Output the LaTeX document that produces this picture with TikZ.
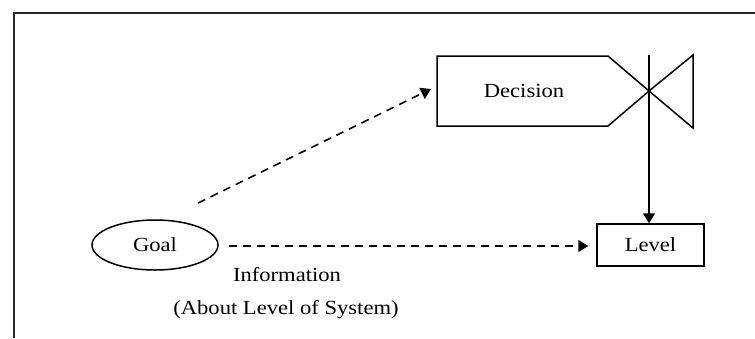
\documentclass[tikz,border=0pt]{standalone}
\usepackage{fontspec}
\setmainfont{Liberation Serif}[FakeStretch=1.13]
\usetikzlibrary{arrows.meta,shapes.geometric}
\begin{document}
\begin{tikzpicture}[x=1pt,y=-1pt,
  every node/.style={font=\fontsize{20}{24}\selectfont},
  outline/.style={draw=black,line width=1.5pt},
  flowtip/.style={-{Triangle[length=10pt,width=12pt]}},
  infoline/.style={flowtip,line width=1.6pt,dash pattern=on 8pt off 6pt},
  rateline/.style={flowtip,line width=1.5pt},
  label/.style={inner sep=0pt}]
  \useasboundingbox (0,0) rectangle (755,338);
  % frame
  \draw[line width=2.5pt,black!85] (14,338) -- (14,13) -- (755,13);

  % decision rate with valve
  \coordinate (dtl) at (437,56);
  \coordinate (dtr) at (608,56);
  \coordinate (valve) at (649,91);
  \coordinate (dbr) at (608,126);
  \coordinate (dbl) at (437,126);
  \coordinate (vtop) at (693,55);
  \coordinate (vbot) at (693,128);
  \coordinate (stem) at (649,55);
  \draw[outline,line join=miter] (dtl) -- (dtr) -- (valve) -- (dbr) -- (dbl) -- cycle;
  \draw[outline,line join=miter] (valve) -- (vtop) -- (vbot) -- cycle;
  \node[label] (decision) at (524,91) {Decision};

  % level
  \node[outline,minimum width=107pt,minimum height=42pt,inner sep=0pt] (level) at (650.5,245) {Level};

  % goal
  \node[outline,ellipse,minimum width=126pt,minimum height=50pt,inner sep=0pt] (goal) at (155,245) {Goal};

  % connectors
  \draw[rateline] (stem) -- (stem |- level.north);
  \draw[infoline] (goal.east) ++(10pt,-1pt) coordinate (gout) -- ([xshift=-8pt,yshift=-1pt]level.west);
  \coordinate (diagstart) at (198,203);
  \coordinate (diagend) at (431,89);
  \draw[infoline] (diagstart) -- (diagend);

  % labels
  \node[label] (info) at (287,275) {Information};
  \node[label] (about) at (286,310) {(About Level of System)};
\end{tikzpicture}
\end{document}
